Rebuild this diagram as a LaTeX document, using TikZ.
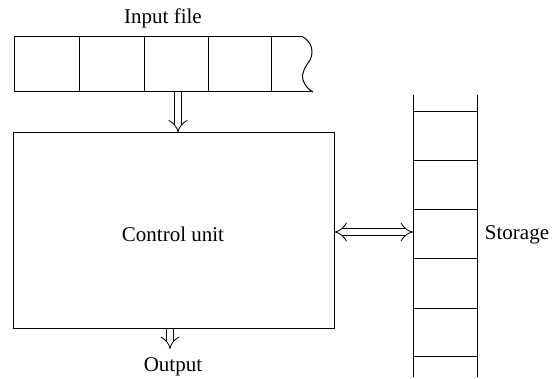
\documentclass[tikz,border=0pt]{standalone}
\usepackage{fontspec}
\setmainfont{Liberation Serif}
\usetikzlibrary{arrows.meta}
\begin{document}
\begin{tikzpicture}[x=1pt,y=-1pt,
  ln/.style={line width=1pt},
  lbl/.style={font=\fontsize{21}{24}\selectfont, inner sep=0pt},
  dbl/.style={double, double distance=6pt, line width=0.8pt, -Implies},
  dbl2/.style={double, double distance=6pt, line width=0.8pt, Implies-Implies}]
\useasboundingbox (0,0) rectangle (554,379);
% input tape
\draw[ln] (303,37) -- (14,37) -- (14,92) -- (313,92);
\draw[ln] (303,37) .. controls (312,42) and (314,52) .. (310,60)
  .. controls (306,66) and (301,72) .. (303,80)
  .. controls (305,86) and (309,90) .. (313,92);
\foreach \x in {79,144,208,271} \draw[ln] (\x,37) -- (\x,92);
\node[lbl] (inp) at (163,18) {Input file};
\coordinate (tapebot) at (178,92);
% control unit
\node[draw, ln, minimum width=321pt, minimum height=195pt, inner sep=0pt] (cu) at (173.5,230.5) {};
\node[lbl] (cul) at (173,234) {Control unit};
\draw[dbl] (tapebot) -- (tapebot |- cu.north);
% output
\node[lbl] (out) at (173,367) {Output};
\coordinate (outtip) at (170,349);
\draw[dbl] (cu.south -| outtip) -- (outtip);
% storage
\coordinate (stl) at (413,232);
\draw[ln] (413,95) -- (413,377);
\draw[ln] (477,95) -- (477,377);
\foreach \y in {112,161,210,259,308,356} \draw[ln] (413,\y) -- (477,\y);
\node[lbl] (st) at (517,235) {Storage};
\draw[dbl2] (cu.east |- stl) -- (stl);
\end{tikzpicture}
\end{document}
